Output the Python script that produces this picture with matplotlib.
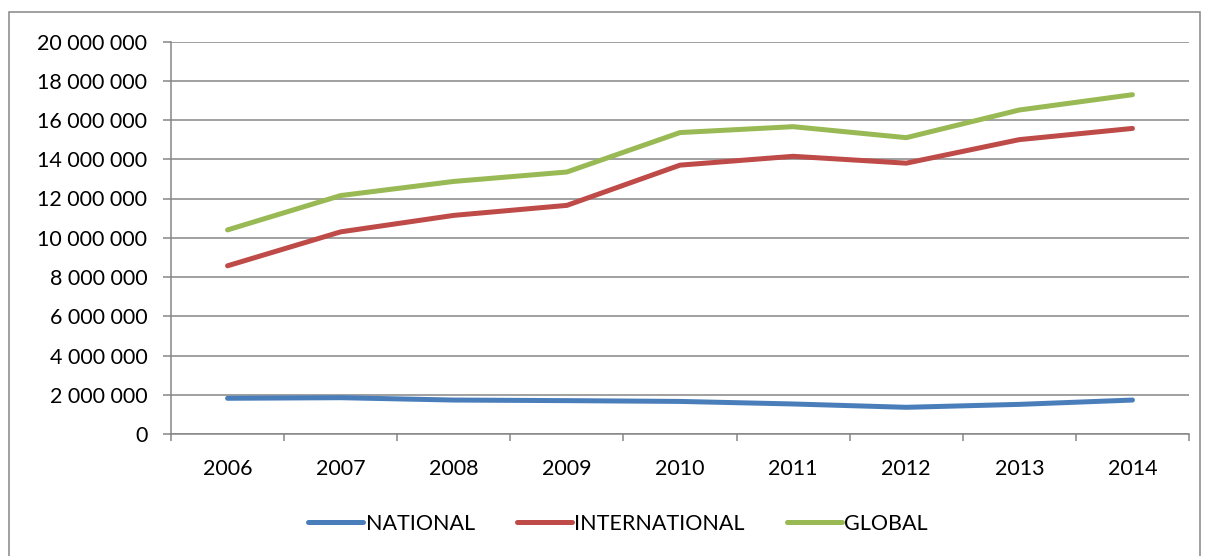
import matplotlib
matplotlib.use("Agg")
import matplotlib.pyplot as plt
from matplotlib.lines import Line2D
from matplotlib.patches import Rectangle
from matplotlib.ticker import FuncFormatter, FixedLocator
import numpy as np

years = ["2006", "2007", "2008", "2009", "2010", "2011", "2012", "2013", "2014"]
national = [1.82e6, 1.85e6, 1.73e6, 1.70e6, 1.66e6, 1.53e6, 1.36e6, 1.51e6, 1.73e6]
international = [8.57e6, 10.30e6, 11.14e6, 11.65e6, 13.70e6, 14.15e6, 13.80e6, 15.00e6, 15.57e6]
global_ = [10.40e6, 12.15e6, 12.87e6, 13.35e6, 15.36e6, 15.66e6, 15.10e6, 16.51e6, 17.29e6]
series_names = ["NATIONAL", "INTERNATIONAL", "GLOBAL"]
colors = ["#4A7EBB", "#BE4B48", "#98B954"]

plt.rcParams['font.family'] = ['Lato', 'DejaVu Sans']

W, H = 1206, 556
FS = 15.5
fig = plt.figure(figsize=(W / 100, H / 100), dpi=100)
ax = fig.add_axes([171 / W, 1 - 434 / H, (1189 - 171) / W, (434 - 41.5) / H])

x = np.arange(len(years))
for vals, c, name in zip([national, international, global_], colors, series_names):
    ax.plot(x, vals, color=c, lw=3.6, solid_capstyle='round', solid_joinstyle='round', label=name, zorder=3)

ax.set_xlim(-0.5, len(years) - 0.5)
ax.set_ylim(0, 20e6)
ax.set_yticks(np.arange(0, 20e6 + 1, 2e6))
ax.yaxis.set_major_formatter(FuncFormatter(lambda v, p: f"{int(v):,}".replace(",", " ")))
ax.set_xticks(x)
ax.set_xticklabels(years)
ax.xaxis.set_minor_locator(FixedLocator(np.arange(-0.5, len(years), 1.0)))

grid_c = "#868686"
ax.grid(axis='y', color=grid_c, lw=1.1, zorder=0)
for s in ['top', 'right']:
    ax.spines[s].set_visible(False)
for s in ['left', 'bottom']:
    ax.spines[s].set_color(grid_c)
    ax.spines[s].set_linewidth(1.1)

ax.tick_params(axis='y', which='major', length=6, width=1.1, color=grid_c, pad=11, labelsize=FS)
ax.tick_params(axis='x', which='major', length=0, pad=18, labelsize=FS)
ax.tick_params(axis='x', which='minor', length=5, width=1.1, color=grid_c)

handles = [Line2D([0], [0], color=c, lw=3.6, solid_capstyle='round') for c in colors]
fig.legend(handles, series_names, loc='center', bbox_to_anchor=(0.5 * (298 + 938) / W, 1 - 524 / H),
           ncol=3, frameon=False, fontsize=FS, handlelength=2.55, handletextpad=0.12,
           columnspacing=1.95, borderpad=0, borderaxespad=0)

fig.patches.append(Rectangle((9 / W, -0.05), (1200 - 9) / W, 1.05 - 12 / H, transform=fig.transFigure,
                             fill=False, edgecolor=grid_c, lw=1.1))

fig.savefig("out.png", dpi=100)
